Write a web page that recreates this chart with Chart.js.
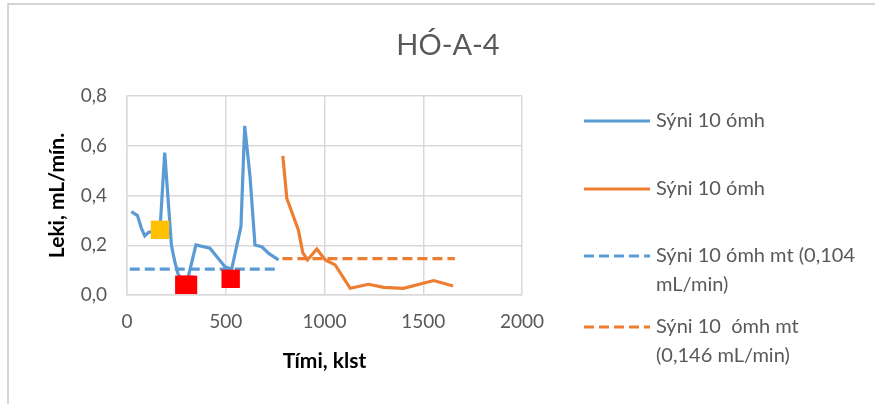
<!DOCTYPE html>
<html>
<head>
<meta charset="utf-8">
<script src="https://cdn.jsdelivr.net/npm/chart.js@4.4.0/dist/chart.umd.min.js"></script>
<style>
  html, body { margin: 0; padding: 0; background: #fff; }
  #wrap { width: 875px; height: 404px; position: relative; }
</style>
</head>
<body>
<div id="wrap"><canvas id="leki"></canvas></div>
<script>
const chartTitle = 'HÓ-A-4';
const xTitle = 'Tími, klst';
const yTitle = 'Leki, mL/mín.';

// Sýni 10 ómh, fyrri mæling
const timeA = [22, 53, 73, 90, 110, 167, 191, 225, 242, 259, 300, 349, 420, 496, 530, 577, 596, 623, 648, 682, 721, 767];
const leakA = [0.335, 0.319, 0.268, 0.238, 0.252, 0.262, 0.572, 0.2, 0.134, 0.083, 0.04, 0.201, 0.188, 0.114, 0.104, 0.275, 0.68, 0.476, 0.201, 0.194, 0.165, 0.141];

// Sýni 10 ómh, seinni mæling
const timeB = [789, 809, 868, 890, 914, 961, 1004, 1054, 1130, 1223, 1300, 1400, 1553, 1651];
const leakB = [0.559, 0.389, 0.261, 0.17, 0.141, 0.185, 0.141, 0.121, 0.027, 0.043, 0.031, 0.027, 0.058, 0.036];

// meðaltöl
const meanA = 0.104;
const meanATime = [14, 760];
const meanB = 0.146;
const meanBTime = [787, 1660];

// merktir punktar
const yellowTime = [167];
const yellowLeak = [0.262];
const redTime = [290, 309, 525];
const redLeak = [0.041, 0.041, 0.065];

const xTicks = [0, 500, 1000, 1500, 2000];
const legendLabels = [
  ['Sýni 10 ómh'],
  ['Sýni 10 ómh'],
  ['Sýni 10 ómh mt (0,104', 'mL/min)'],
  ['Sýni 10  ómh mt', '(0,146 mL/min)']
];

const BLUE = '#5B9BD5';
const ORANGE = '#ED7D31';
const GRID = '#D9D9D9';
const TEXT = '#595959';
const FONT = 'Lato';

const pts = (xs, ys) => xs.map((x, i) => ({ x: x, y: ys[i] }));

const frame = {
  id: 'frame',
  beforeDraw(chart) {
    const ctx = chart.ctx;
    ctx.save();
    ctx.fillStyle = '#fff';
    ctx.fillRect(0, 0, chart.width, chart.height);
    ctx.strokeStyle = '#C8C8C8';
    ctx.lineWidth = 1.5;
    ctx.beginPath();
    ctx.moveTo(8, chart.height);
    ctx.lineTo(8, 4);
    ctx.lineTo(chart.width, 4);
    ctx.stroke();
    ctx.restore();
  },
  afterDraw(chart) {
    const ctx = chart.ctx;
    ctx.save();
    ctx.fillStyle = TEXT;
    ctx.font = '29px ' + FONT;
    ctx.textAlign = 'center';
    ctx.textBaseline = 'middle';
    ctx.fillText(chartTitle, 448, 46);
    ctx.restore();
  }
};

// legend on the right, with wrapped labels
const sideLegend = {
  id: 'sideLegend',
  afterDraw(chart) {
    const ctx = chart.ctx;
    const rows = [121, 189, 256, 327];
    const lineGap = 29;
    ctx.save();
    ctx.font = '20px ' + FONT;
    ctx.textBaseline = 'middle';
    ctx.textAlign = 'left';
    legendLabels.forEach((lines, i) => {
      const ds = chart.data.datasets[i];
      const y = rows[i];
      ctx.strokeStyle = ds.borderColor;
      ctx.lineWidth = ds.borderWidth;
      ctx.setLineDash(ds.borderDash || []);
      ctx.beginPath();
      ctx.moveTo(584, y);
      ctx.lineTo(650, y);
      ctx.stroke();
      ctx.setLineDash([]);
      ctx.fillStyle = TEXT;
      lines.forEach((t, j) => ctx.fillText(t, 656, y + j * lineGap));
    });
    ctx.restore();
  }
};

new Chart(document.getElementById('leki'), {
  type: 'scatter',
  data: {
    datasets: [
      { label: legendLabels[0].join(' '), data: pts(timeA, leakA), showLine: true,
        borderColor: BLUE, backgroundColor: BLUE, borderWidth: 3.2, pointRadius: 0, order: 2 },
      { label: legendLabels[1].join(' '), data: pts(timeB, leakB), showLine: true,
        borderColor: ORANGE, backgroundColor: ORANGE, borderWidth: 3.2, pointRadius: 0, order: 2 },
      { label: legendLabels[2].join(' '), data: pts(meanATime, [meanA, meanA]), showLine: true,
        borderColor: BLUE, backgroundColor: BLUE, borderWidth: 3.2, borderDash: [10, 5], pointRadius: 0, order: 3 },
      { label: legendLabels[3].join(' '), data: pts(meanBTime, [meanB, meanB]), showLine: true,
        borderColor: ORANGE, backgroundColor: ORANGE, borderWidth: 3.2, borderDash: [10, 5], pointRadius: 0, order: 3 },
      { label: 'gult', data: pts(yellowTime, yellowLeak), showLine: false, pointStyle: 'rect',
        pointRadius: 13, borderWidth: 0, backgroundColor: '#FFC000', borderColor: '#FFC000', order: 0 },
      { label: 'rautt', data: pts(redTime, redLeak), showLine: false, pointStyle: 'rect',
        pointRadius: 13, borderWidth: 0, backgroundColor: '#FF0000', borderColor: '#FF0000', order: 0 }
    ]
  },
  options: {
    responsive: true,
    maintainAspectRatio: false,
    animation: false,
    layout: { padding: { left: 45, right: 353, top: 96, bottom: 0 } },
    plugins: {
      legend: { display: false },
      title: { display: false },
      tooltip: { enabled: false }
    },
    scales: {
      x: {
        type: 'linear',
        min: 0,
        max: 2000,
        afterBuildTicks: (s) => { s.ticks = xTicks.map(v => ({ value: v })); },
        afterFit: (s) => { s.height = 109; },
        ticks: { color: TEXT, font: { family: FONT, size: 19 }, padding: 15, maxRotation: 0,
          callback: (v) => String(v) },
        grid: { color: GRID, lineWidth: 1.5, drawTicks: false },
        border: { color: GRID, width: 1.5 },
        title: { display: true, text: xTitle, color: '#000',
          font: { family: FONT, size: 21, weight: 'bold' }, padding: { top: 0, bottom: 30 } }
      },
      y: {
        min: 0,
        max: 0.8,
        afterFit: (s) => { s.width = 82; },
        ticks: { stepSize: 0.2, color: TEXT, font: { family: FONT, size: 19 }, padding: 20,
          callback: (v) => v.toFixed(1).replace('.', ',') },
        grid: { color: GRID, lineWidth: 1.5, drawTicks: false },
        border: { color: GRID, width: 1.5 },
        title: { display: true, text: yTitle, color: '#000',
          font: { family: FONT, size: 21, weight: 'bold' }, padding: 0 }
      }
    }
  },
  plugins: [frame, sideLegend]
});
</script>
</body>
</html>
